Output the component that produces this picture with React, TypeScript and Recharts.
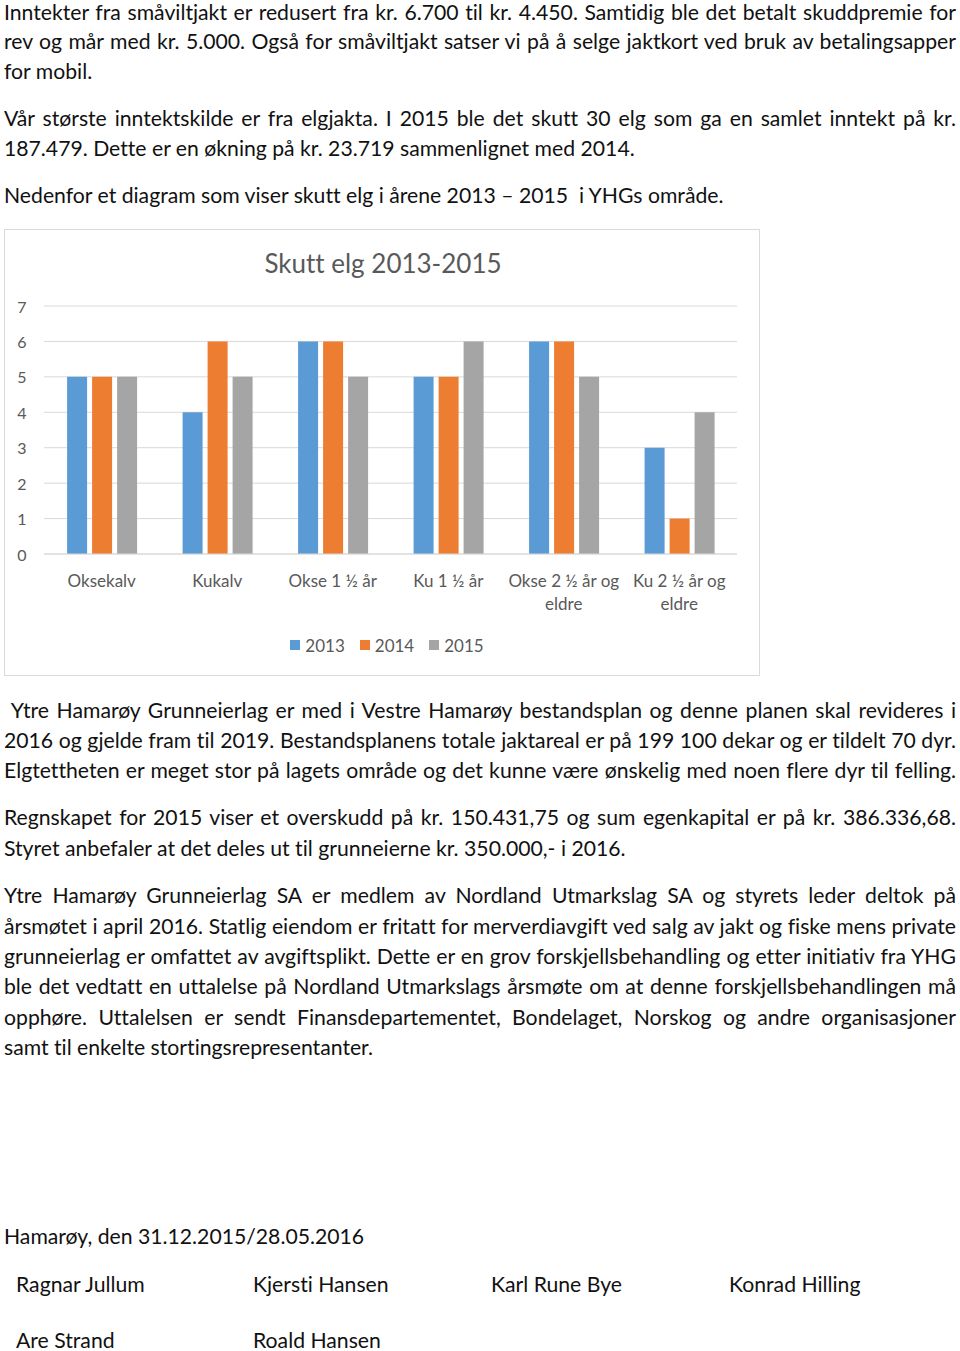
import React from "react";
import {
  BarChart,
  Bar,
  XAxis,
  YAxis,
  CartesianGrid,
  Legend,
} from "recharts";

const categories = [
  "Oksekalv",
  "Kukalv",
  "Okse 1 ½ år",
  "Ku 1 ½ år",
  "Okse 2 ½ år og eldre",
  "Ku 2 ½ år og eldre",
];
const years = ["2013", "2014", "2015"];
const values2013 = [5, 4, 6, 5, 6, 3];
const values2014 = [5, 6, 6, 5, 6, 1];
const values2015 = [5, 5, 5, 6, 5, 4];
const yTicks = [0, 1, 2, 3, 4, 5, 6, 7];
const colours = ["#5B9BD5", "#ED7D31", "#A5A5A5"];

const textAbove = [
  { text: "Inntekter fra småviltjakt er redusert fra kr. 6.700 til kr. 4.450. Samtidig ble det betalt skuddpremie for", y: 12, justify: true },
  { text: "rev og mår med kr. 5.000. Også for småviltjakt satser vi på å selge jaktkort ved bruk av betalingsapper", y: 41, justify: true },
  { text: "for mobil.", y: 71 },
  { text: "Vår største inntektskilde er fra elgjakta. I 2015 ble det skutt 30 elg som ga en samlet inntekt på kr.", y: 118, justify: true },
  { text: "187.479. Dette er en økning på kr. 23.719 sammenlignet med 2014.", y: 148 },
  { text: "Nedenfor et diagram som viser skutt elg i årene 2013 – 2015\u00a0 i YHGs område.", y: 195 },
];

const textBelow = [
  { text: "\u00a0Ytre Hamarøy Grunneierlag er med i Vestre Hamarøy bestandsplan og denne planen skal revideres i", y: 710, justify: true },
  { text: "2016 og gjelde fram til 2019. Bestandsplanens totale jaktareal er på 199 100 dekar og er tildelt 70 dyr.", y: 740, justify: true },
  { text: "Elgtettheten er meget stor på lagets område og det kunne være ønskelig med noen flere dyr til felling.", y: 770, justify: true },
  { text: "Regnskapet for 2015 viser et overskudd på kr. 150.431,75 og sum egenkapital er på kr. 386.336,68.", y: 817, justify: true },
  { text: "Styret anbefaler at det deles ut til grunneierne kr. 350.000,- i 2016.", y: 848 },
  { text: "Ytre Hamarøy Grunneierlag SA er medlem av Nordland Utmarkslag SA og styrets leder deltok på", y: 895, justify: true },
  { text: "årsmøtet i april 2016. Statlig eiendom er fritatt for merverdiavgift ved salg av jakt og fiske mens private", y: 926, justify: true },
  { text: "grunneierlag er omfattet av avgiftsplikt. Dette er en grov forskjellsbehandling og etter initiativ fra YHG", y: 956, justify: true },
  { text: "ble det vedtatt en uttalelse på Nordland Utmarkslags årsmøte om at denne forskjellsbehandlingen må", y: 986, justify: true },
  { text: "opphøre. Uttalelsen er sendt Finansdepartementet, Bondelaget, Norskog og andre organisasjoner", y: 1017, justify: true },
  { text: "samt til enkelte stortingsrepresentanter.", y: 1047 },
];

const signatures = [
  { text: "Hamarøy, den 31.12.2015/28.05.2016", x: 4, y: 1236 },
  { text: "Ragnar Jullum", x: 16, y: 1284 },
  { text: "Kjersti Hansen", x: 253, y: 1284 },
  { text: "Karl Rune Bye", x: 491, y: 1284 },
  { text: "Konrad Hilling", x: 729, y: 1284 },
  { text: "Are Strand", x: 16, y: 1340 },
  { text: "Roald Hansen", x: 253, y: 1340 },
];

const data = categories.map((name, i) => ({
  name,
  y2013: values2013[i],
  y2014: values2014[i],
  y2015: values2015[i],
}));

const FONT = "Lato, 'Open Sans', sans-serif";
const TEXT_SIZE = 21.2;
const AXIS_GREY = "#595959";
const NO_LIGA = '"liga" 0, "clig" 0, "dlig" 0, "calt" 0';

function Line({ text, y, justify, x = 4 }: { text: string; y: number; justify?: boolean; x?: number }) {
  return (
    <div
      style={{
        position: "absolute",
        left: x,
        top: y - 13,
        width: justify ? 952 : undefined,
        lineHeight: "26px",
        fontSize: TEXT_SIZE,
        whiteSpace: "nowrap",
        textAlign: justify ? "justify" : "left",
        textAlignLast: justify ? "justify" : "auto",
        fontVariantLigatures: "none",
        fontFeatureSettings: NO_LIGA,
        color: "#111",
      }}
    >
      {text}
    </div>
  );
}

function CategoryTick(props: any) {
  const { x, y, payload } = props;
  const label: string = payload.value;
  const lines = label.endsWith(" eldre")
    ? [label.slice(0, -6), "eldre"]
    : [label];
  return (
    <g>
      {lines.map((l, i) => (
        <text
          key={i}
          x={x}
          y={y + 18 + i * 23}
          textAnchor="middle"
          dominantBaseline="central"
          fontSize={17}
          fill={AXIS_GREY}
          fontFamily={FONT}
        >
          {l}
        </text>
      ))}
    </g>
  );
}

function ValueTick(props: any) {
  const { y, payload } = props;
  return (
    <text
      x={17}
      y={y}
      textAnchor="middle"
      dominantBaseline="central"
      fontSize={16}
      fill={AXIS_GREY}
      fontFamily={FONT}
    >
      {payload.value}
    </text>
  );
}

function YearLegend() {
  return (
    <div
      style={{
        display: "flex",
        justifyContent: "center",
        alignItems: "center",
        height: 20,
        fontFamily: FONT,
        fontSize: 17,
        color: AXIS_GREY,
        paddingLeft: 10,
      }}
    >
      {years.map((yr, i) => (
        <div key={yr} style={{ display: "flex", alignItems: "center", marginRight: i < years.length - 1 ? 15 : 0 }}>
          <span style={{ width: 10, height: 10, background: colours[i], marginRight: 5 }} />
          <span>{yr}</span>
        </div>
      ))}
    </div>
  );
}

export default function App() {
  return (
    <div
      style={{
        position: "absolute",
        left: 0,
        top: 0,
        width: 960,
        height: 1351,
        fontFamily: FONT,
        background: "#fff",
      }}
    >
      {textAbove.map((l, i) => (
        <Line key={i} {...l} />
      ))}

      <div
        style={{
          position: "absolute",
          left: 4,
          top: 229,
          width: 756,
          height: 447,
          boxSizing: "border-box",
          border: "1px solid #d9d9d9",
        }}
      >
        <div
          style={{
            position: "absolute",
            left: 0,
            width: 756,
            top: 17,
            textAlign: "center",
            fontSize: 26,
            color: AXIS_GREY,
            fontFamily: FONT,
            fontFeatureSettings: NO_LIGA,
          }}
        >
          Skutt elg 2013-2015
        </div>
        <BarChart
          width={754}
          height={445}
          data={data}
          margin={{ top: 76, right: 22, left: 0, bottom: 41 }}
          barCategoryGap="20%"
          barGap={5}
        >
          <CartesianGrid vertical={false} stroke="#d9d9d9" />
          <XAxis
            dataKey="name"
            axisLine={{ stroke: "#d9d9d9" }}
            tickLine={false}
            height={60}
            interval={0}
            tick={<CategoryTick />}
          />
          <YAxis
            width={39}
            domain={[0, 7]}
            ticks={yTicks}
            axisLine={false}
            tickLine={false}
            tick={<ValueTick />}
          />
          <Legend
            verticalAlign="bottom"
            content={<YearLegend />}
            wrapperStyle={{ top: 405, left: 0, width: 754, height: 20 }}
          />
          <Bar dataKey="y2013" name="2013" fill={colours[0]} isAnimationActive={false} />
          <Bar dataKey="y2014" name="2014" fill={colours[1]} isAnimationActive={false} />
          <Bar dataKey="y2015" name="2015" fill={colours[2]} isAnimationActive={false} />
        </BarChart>
      </div>

      {textBelow.map((l, i) => (
        <Line key={i} {...l} />
      ))}

      {signatures.map((s, i) => (
        <Line key={i} text={s.text} x={s.x} y={s.y} />
      ))}
    </div>
  );
}
